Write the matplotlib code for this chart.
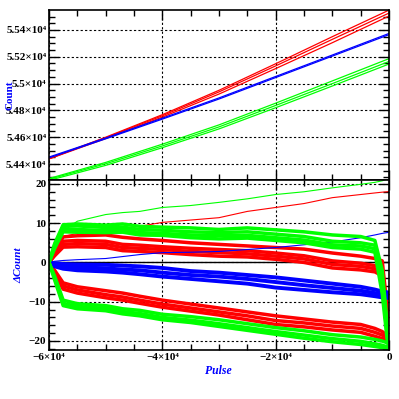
import matplotlib
matplotlib.use("Agg")
import matplotlib.pyplot as plt
from matplotlib.ticker import MultipleLocator

# ---- top panel : Count vs Pulse
xt = [-60000, -50000, -40000, -30000, -20000, -10000, 0]
red_top = [[54440, 54600, 54768, 54950, 55148, 55350, 55548],
           [54440, 54596, 54760, 54938, 55132, 55330, 55526],
           [54438, 54590, 54750, 54922, 55112, 55305, 55504]]
blue_top = [[54452, 54594, 54742, 54893, 55053, 55213, 55374],
            [54446, 54588, 54735, 54885, 55045, 55205, 55365]]
green_top = [[54292, 54412, 54548, 54692, 54854, 55020, 55186],
             [54286, 54402, 54535, 54677, 54837, 55000, 55165],
             [54278, 54390, 54522, 54662, 54820, 54982, 55146]]
top_ticks = [54400, 54600, 54800, 55000, 55200, 55400]
top_labels = ["5.44×10⁴", "5.46×10⁴", "5.48×10⁴", "5.5×10⁴", "5.52×10⁴", "5.54×10⁴"]

# ---- bottom panel : dCount vs Pulse
xb = [-60000, -59000, -57500, -55000, -50000, -47000, -44000, -40000, -35000,
      -30000, -25000, -20000, -15000, -10000, -5000, -2500, -1200, -300, 0]

green_thin = [0, 3.0, 8.0, 10.5, 12.2, 12.7, 13.0, 14.0, 14.5, 15.3, 16.2,
              17.3, 18.0, 19.0, 19.9, 20.4, 20.8, 21.2, 21.5]
red_thin = [0, 3.0, 6.6, 7.4, 8.4, 8.7, 9.2, 10.2, 10.8, 11.4, 13.0, 14.0,
            15.0, 16.5, 17.3, 17.7, 17.9, 18.0, 18.1]
blue_thin = [0, 0.3, 0.5, 0.7, 1.0, 1.5, 2.0, 2.5, 2.6, 2.8, 3.3, 3.8, 4.5,
             5.2, 6.3, 7.0, 7.4, 7.6, 7.8]

green_up = [[0, 4.8, 9.6, 9.8, 9.5, 9.8, 9.2, 9.0, 8.8, 8.4, 8.8, 8.3, 7.8, 7.0, 6.6, 5.6, -2.0, -16.0, -20.0],
            [0, 4.5, 9.2, 9.3, 8.9, 9.0, 8.4, 8.2, 7.8, 7.6, 7.8, 7.2, 6.6, 5.4, 5.0, 4.4, -4.0, -18.0, -20.5],
            [0, 4.0, 8.5, 8.4, 8.1, 8.4, 7.6, 7.4, 7.0, 6.8, 6.9, 6.3, 5.7, 4.5, 4.2, 3.5, -6.0, -19.0, -21.0],
            [0, 3.6, 7.8, 7.7, 7.6, 7.7, 7.0, 6.9, 6.3, 6.0, 6.2, 5.6, 5.0, 3.8, 3.4, 2.6, -8.0, -20.0, -21.2]]
red_up = [[0, 2.8, 6.5, 6.8, 7.0, 6.4, 6.0, 5.6, 5.0, 4.6, 4.2, 3.8, 3.4, 2.4, 1.6, 1.0, 0.4, -12.0, -20.0],
          [0, 2.4, 5.4, 5.6, 5.4, 4.6, 4.4, 4.0, 3.6, 3.3, 3.0, 2.4, 1.7, 0.4, -0.2, -0.8, -1.6, -14.0, -20.0],
          [0, 2.0, 4.6, 4.8, 4.6, 3.8, 3.6, 3.3, 2.8, 2.5, 2.2, 1.6, 0.9, -0.5, -1.0, -1.6, -2.6, -15.0, -20.5],
          [0, 1.7, 3.9, 4.0, 3.8, 3.0, 2.8, 2.5, 2.0, 1.6, 1.4, 0.8, 0.0, -1.4, -1.9, -2.4, -3.4, -16.0, -21.0]]
blue_mid = [[0, -0.2, -0.4, -0.5, -0.6, -0.8, -1.0, -1.4, -2.2, -2.6, -3.2, -3.8, -4.6, -5.4, -6.2, -6.9, -7.4, -7.6, -7.8],
            [0, -0.6, -1.0, -1.2, -1.5, -1.8, -2.0, -2.6, -3.2, -3.6, -4.2, -5.0, -5.8, -6.5, -7.2, -7.8, -8.2, -8.4, -8.5],
            [0, -1.0, -1.6, -2.0, -2.3, -2.6, -3.0, -3.6, -4.2, -4.8, -5.4, -6.4, -7.0, -7.6, -8.1, -8.6, -8.9, -9.0, -9.1]]
red_low = [[0, -2.0, -5.2, -6.2, -7.2, -7.8, -8.6, -9.6, -10.6, -11.6, -12.6, -13.6, -14.4, -15.2, -15.8, -16.8, -17.6, -18.6, -19.5],
           [0, -2.5, -6.0, -7.0, -8.2, -8.8, -9.6, -10.6, -11.6, -12.6, -13.6, -14.8, -15.4, -16.2, -16.8, -17.8, -18.5, -19.4, -20.2],
           [0, -3.0, -6.8, -7.8, -9.0, -9.6, -10.4, -11.4, -12.4, -13.4, -14.6, -15.8, -16.4, -17.2, -17.8, -18.8, -19.4, -20.2, -21.0]]
green_low = [[0, -3.5, -9.6, -10.5, -11.0, -11.8, -12.2, -13.2, -13.8, -14.6, -15.6, -16.6, -17.4, -18.4, -19.0, -19.6, -20.0, -20.5, -21.0],
             [0, -4.0, -10.4, -11.2, -11.7, -12.5, -13.0, -14.0, -14.7, -15.6, -16.6, -17.6, -18.5, -19.4, -20.1, -20.7, -21.1, -21.5, -21.8],
             [0, -4.5, -11.0, -11.8, -12.3, -13.1, -13.6, -14.6, -15.3, -16.3, -17.3, -18.3, -19.3, -20.2, -20.9, -21.4, -21.7, -22.0, -22.2]]

x_ticks = [-60000, -40000, -20000, 0]
x_labels = ["−6×10⁴", "−4×10⁴", "−2×10⁴", "0"]

RED, GREEN, BLUE = "#ff0000", "#00ff00", "#0000ff"
tick_font = {"family": "Liberation Serif", "size": 8, "weight": "bold"}

fig = plt.figure(figsize=(3.99, 3.99), dpi=100)
ax1 = fig.add_axes([0.1228, 0.5489, 0.8522, 0.4261])
ax2 = fig.add_axes([0.1228, 0.1228, 0.8522, 0.4261])


def style(ax):
    ax.tick_params(which="both", direction="in", top=True, right=True, width=1,
                   color="k", pad=2)
    ax.tick_params(which="major", length=7)
    ax.tick_params(which="minor", length=4)
    for s in ax.spines.values():
        s.set_linewidth(1.2)
    ax.grid(True, which="major", color="k", linestyle=(0, (2, 2)), linewidth=0.8)
    ax.set_axisbelow(True)


# top panel
for y in red_top:
    ax1.plot(xt, y, color=RED, lw=0.9)
for y in blue_top:
    ax1.plot(xt, y, color=BLUE, lw=0.9)
for y in green_top:
    ax1.plot(xt, y, color=GREEN, lw=0.9)
ax1.set_xlim(-60000, 0)
ax1.set_ylim(54281, 55549)
ax1.set_xticks(x_ticks)
ax1.set_xticklabels([])
ax1.xaxis.set_minor_locator(MultipleLocator(5000))
ax1.set_yticks(top_ticks)
ax1.set_yticklabels(top_labels, fontdict=tick_font)
ax1.yaxis.set_minor_locator(MultipleLocator(50))
style(ax1)

# bottom panel
ax2.axhline(0, color="k", lw=1.0, zorder=1)
ax2.plot(xb, red_thin, color=RED, lw=0.8)
for y in red_up:
    ax2.plot(xb, y, color=RED, lw=2.5)
for y in red_low:
    ax2.plot(xb, y, color=RED, lw=2.5)
ax2.plot(xb, blue_thin, color=BLUE, lw=0.8)
for y in blue_mid:
    ax2.plot(xb, y, color=BLUE, lw=2.8)
ax2.plot(xb, green_thin, color=GREEN, lw=0.8)
for y in green_up:
    ax2.plot(xb, y, color=GREEN, lw=2.5)
for y in green_low:
    ax2.plot(xb, y, color=GREEN, lw=2.5)
ax2.set_xlim(-60000, 0)
ax2.set_ylim(-22.3, 21)
ax2.set_xticks(x_ticks)
ax2.set_xticklabels(x_labels, fontdict=tick_font)
ax2.xaxis.set_minor_locator(MultipleLocator(5000))
ax2.set_yticks([-20, -10, 0, 10, 20])
ax2.set_yticklabels(["−20", "−10", "0", "10", "20"], fontdict=tick_font)
ax2.yaxis.set_minor_locator(MultipleLocator(2))
style(ax2)

fig.text(0.025, 0.762, "Count", rotation=90, color=BLUE, fontsize=8,
         family="Liberation Serif", weight="bold", ha="center", va="center")
fig.text(0.048, 0.336, "ΔCount", rotation=90, color=BLUE, fontsize=8,
         family="Liberation Serif", style="italic", weight="bold",
         ha="center", va="center")
fig.text(0.547, 0.07, "Pulse", color=BLUE, fontsize=8.5,
         family="Liberation Serif", style="italic", weight="bold",
         ha="center", va="center")

fig.savefig("out.png", dpi=100)
